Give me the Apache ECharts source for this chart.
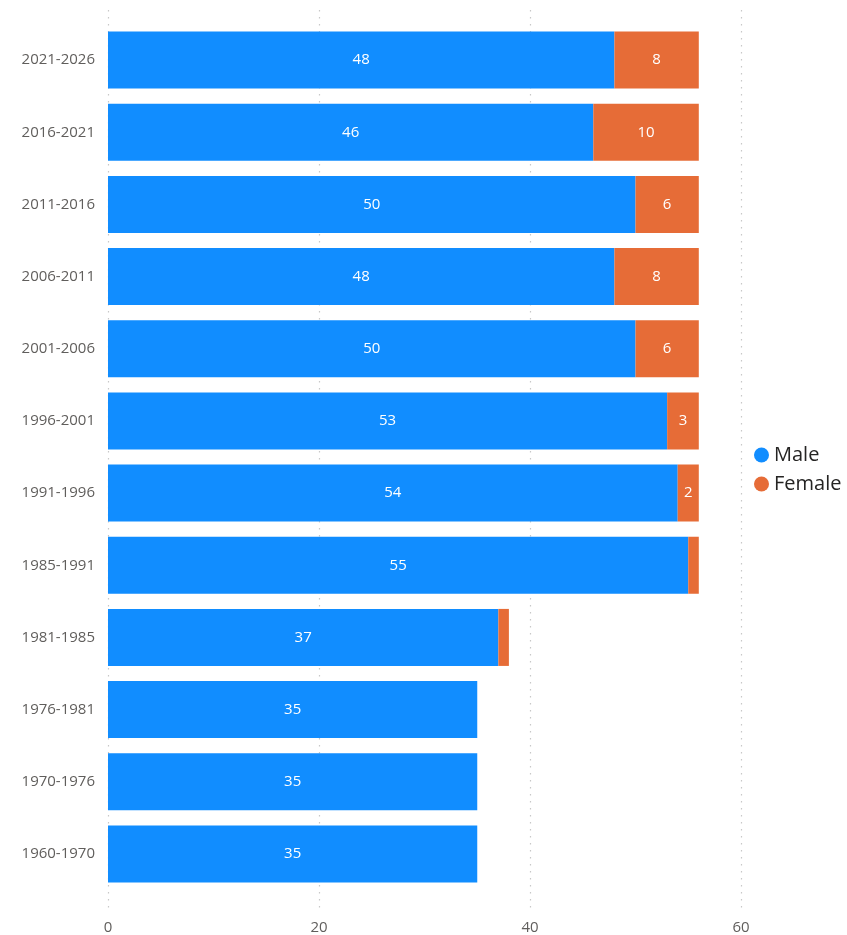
<!DOCTYPE html>
<html>
<head>
<meta charset="utf-8">
<script src="https://cdn.jsdelivr.net/npm/echarts@6/dist/echarts.min.js"></script>
<style>
  html, body { margin: 0; padding: 0; background: #fff; }
  #container { width: 847px; height: 935px; }
</style>
</head>
<body>
<div id="container"></div>
<script>
var periods = ['1960-1970', '1970-1976', '1976-1981', '1981-1985', '1985-1991', '1991-1996',
  '1996-2001', '2001-2006', '2006-2011', '2011-2016', '2016-2021', '2021-2026']
var male = [35, 35, 35, 37, 55, 54, 53, 50, 48, 50, 46, 48]
var female = [0, 0, 0, 1, 1, 2, 3, 6, 8, 6, 10, 8]
var xTicks = [0, 20, 40, 60]

var font = '"Open Sans", "Segoe UI", sans-serif'
var myChart = echarts.init(document.getElementById('container'))

var option = {
  backgroundColor: '#fff',
  animation: false,
  legend: {
    orient: 'vertical',
    left: 749,
    top: 440,
    icon: 'circle',
    itemWidth: 15,
    itemHeight: 15,
    itemGap: 9,
    textStyle: {
      color: '#252423',
      fontSize: 20,
      fontFamily: font
    },
    data: ['Male', 'Female']
  },
  grid: [{
    left: 108,
    right: 106,
    top: 24,
    bottom: 45
  }, {
    // taller background grid, only carries the dotted gridlines
    left: 108,
    right: 106,
    top: 10,
    bottom: 22
  }],
  xAxis: [{
    type: 'value',
    gridIndex: 0,
    min: 0,
    max: xTicks[xTicks.length - 1],
    interval: 20,
    axisLine: { show: false },
    axisTick: { show: false },
    splitLine: { show: false },
    axisLabel: {
      margin: 30,
      color: '#605E5C',
      fontSize: 15,
      fontFamily: font
    }
  }, {
    type: 'value',
    gridIndex: 1,
    min: 0,
    max: xTicks[xTicks.length - 1],
    interval: 20,
    axisLine: { show: false },
    axisTick: { show: false },
    axisLabel: { show: false },
    splitLine: {
      show: true,
      lineStyle: { color: '#c8c8c8', type: [1.5, 5.5], width: 1.2 }
    }
  }],
  yAxis: [{
    type: 'category',
    gridIndex: 0,
    data: periods,
    axisLine: { show: false },
    axisTick: { show: false },
    axisLabel: {
      margin: 13,
      color: '#605E5C',
      fontSize: 15,
      fontFamily: font
    }
  }, {
    type: 'value',
    gridIndex: 1,
    show: false
  }],
  series: [{
    name: 'Male',
    type: 'bar',
    stack: 'total',
    barCategoryGap: '21%',
    z: 3,
    itemStyle: { color: '#118DFF' },
    label: {
      show: true,
      position: 'inside',
      color: '#fff',
      fontSize: 15,
      fontFamily: font
    },
    data: male
  }, {
    name: 'Female',
    type: 'bar',
    stack: 'total',
    barCategoryGap: '21%',
    z: 3,
    itemStyle: { color: '#E66C37' },
    label: {
      show: true,
      position: 'inside',
      color: '#fff',
      fontSize: 15,
      fontFamily: font,
      formatter: function (p) {
        return p.value >= 2 ? p.value : ''
      }
    },
    data: female
  }]
}

myChart.setOption(option)
</script>
</body>
</html>
